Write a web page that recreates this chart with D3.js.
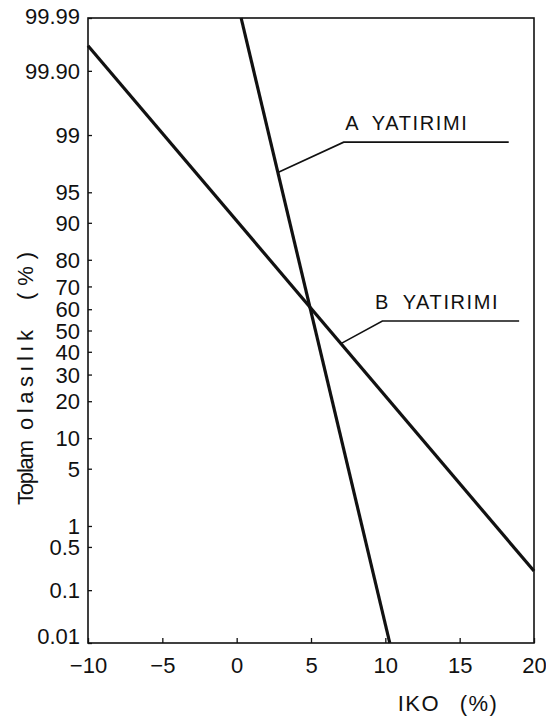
<!DOCTYPE html>
<html>
<head>
<meta charset="utf-8">
<script src="https://cdn.jsdelivr.net/npm/d3@7"></script>
<style>
  body { margin: 0; background: #fff; }
  svg { display: block; }
  text { font-family: "Liberation Sans Narrow", "Liberation Sans", Arial, sans-serif; fill: #111; }
</style>
</head>
<body>
<div id="chart"></div>
<script>
// probability ticks (cumulative %), x ticks (IKO %)
const yTicks = [99.99, 99.90, 99, 95, 90, 80, 70, 60, 50, 40, 30, 20, 10, 5, 1, 0.5, 0.1, 0.01];
const yTickLabels = ["99.99", "99.90", "99", "95", "90", "80", "70", "60", "50", "40", "30", "20", "10", "5", "1", "0.5", "0.1", "0.01"];
const xTicks = [-10, -5, 0, 5, 10, 15, 20];

// the two straight lines: [IKO, cumulative probability %]
const seriesA = [[0.3, 99.99], [10.3, 0.01]];
const seriesB = [[-10, 99.965], [20, 0.21]];

// labels with leader lines: anchor on line (prob), elbow (x, prob), end x, text start x
const labelA = { text: "A  YATIRIMI", anchorP: 97, elbowX: 7.2, levelP: 98.75, endX: 18.3, textX: 7.3 };
const labelB = { text: "B  YATIRIMI", anchorP: 43.8, elbowX: 9.8, levelP: 54.5, endX: 19.0, textX: 9.3 };

// y title words: [word, start, length] along the rotated text
const yTitleWords = [["Toplam", -126, 65], ["olasılık", -51, 100], ["(%)", 79, 48]];

const width = 546, height = 718;
const margin = { top: 18, left: 88, bottom: 75, right: 12 };

// inverse normal cdf (Acklam)
function probit(p) {
  const a = [-3.969683028665376e+01, 2.209460984245205e+02, -2.759285104469687e+02, 1.383577518672690e+02, -3.066479806614716e+01, 2.506628277459239e+00];
  const b = [-5.447609879822406e+01, 1.615858368580409e+02, -1.556989798598866e+02, 6.680131188771972e+01, -1.328068155288572e+01];
  const c = [-7.784894002430293e-03, -3.223964580411365e-01, -2.400758277161838e+00, -2.549671010115149e+00, 4.374664141464968e+00, 2.938163982698783e+00];
  const d = [7.784695709041462e-03, 3.224671290700398e-01, 2.445134137142996e+00, 3.754408661907416e+00];
  const pl = 0.02425;
  let q, r;
  if (p < pl) {
    q = Math.sqrt(-2 * Math.log(p));
    return (((((c[0]*q+c[1])*q+c[2])*q+c[3])*q+c[4])*q+c[5]) / ((((d[0]*q+d[1])*q+d[2])*q+d[3])*q+1);
  } else if (p <= 1 - pl) {
    q = p - 0.5; r = q * q;
    return (((((a[0]*r+a[1])*r+a[2])*r+a[3])*r+a[4])*r+a[5])*q / (((((b[0]*r+b[1])*r+b[2])*r+b[3])*r+b[4])*r+1);
  } else {
    q = Math.sqrt(-2 * Math.log(1 - p));
    return -(((((c[0]*q+c[1])*q+c[2])*q+c[3])*q+c[4])*q+c[5]) / ((((d[0]*q+d[1])*q+d[2])*q+d[3])*q+1);
  }
}

const plotW = width - margin.left - margin.right;
const plotH = height - margin.top - margin.bottom;

const x = d3.scaleLinear().domain([-10, 20]).range([0, plotW]);
const zScale = d3.scaleLinear().domain([probit(0.0001), probit(0.9999)]).range([plotH, 0]);
const y = p => zScale(probit(p / 100));

const svg = d3.select("#chart").append("svg")
  .attr("width", width)
  .attr("height", height);

const g = svg.append("g").attr("transform", `translate(${margin.left},${margin.top})`);

// frame
g.append("rect")
  .attr("width", plotW)
  .attr("height", plotH)
  .attr("fill", "none")
  .attr("stroke", "#111")
  .attr("stroke-width", 1.6);

// y axis (ticks pointing inward)
const yAxis = g.append("g")
  .call(d3.axisLeft(zScale)
    .tickValues(yTicks.map(p => probit(p / 100)))
    .tickSizeInner(-4)
    .tickSizeOuter(0)
    .tickPadding(8)
    .tickFormat((d, i) => yTickLabels[i]));
yAxis.select(".domain").remove();
yAxis.selectAll("line").attr("stroke", "#111").attr("stroke-width", 1.3);
yAxis.selectAll("text")
  .attr("font-size", 22)
  .attr("fill", "#111")
  .attr("dy", (d, i) => i === 0 ? "0.25em" : (i === yTicks.length - 1 ? "0" : "0.35em"));

// x axis
const xAxis = g.append("g")
  .attr("transform", `translate(0,${plotH})`)
  .call(d3.axisBottom(x)
    .tickValues(xTicks)
    .tickSizeInner(-5)
    .tickSizeOuter(0)
    .tickPadding(14)
    .tickFormat(d => d < 0 ? "\u2212" + Math.abs(d) : d));
xAxis.select(".domain").remove();
xAxis.selectAll("line").attr("stroke", "#111").attr("stroke-width", 1.3);
xAxis.selectAll("text").attr("font-size", 22).attr("fill", "#111");

// axis titles
g.append("text")
  .attr("transform", `translate(${25 - margin.left},${379 - margin.top}) rotate(-90)`)
  .attr("dy", "0.35em")
  .attr("font-size", 22)
  .selectAll("tspan")
  .data(yTitleWords)
  .join("tspan")
  .attr("x", d => d[1])
  .attr("textLength", d => d[2])
  .attr("lengthAdjust", "spacing")
  .text(d => d[0]);

g.append("text")
  .attr("x", 448 - margin.left)
  .attr("y", 703 - margin.top)
  .attr("text-anchor", "middle")
  .attr("dy", "0.35em")
  .attr("font-size", 22)
  .attr("letter-spacing", 1.5)
  .attr("word-spacing", 12)
  .text("IKO (%)");

// lines
const line = d3.line().x(d => x(d[0])).y(d => y(d[1]));
[seriesA, seriesB].forEach(s => {
  g.append("path")
    .datum(s)
    .attr("d", line)
    .attr("fill", "none")
    .attr("stroke", "#111")
    .attr("stroke-width", 3.2);
});

// x on a line for a given probability
function xOnLine(s, p) {
  const z0 = probit(s[0][1] / 100), z1 = probit(s[1][1] / 100);
  const t = (probit(p / 100) - z0) / (z1 - z0);
  return s[0][0] + t * (s[1][0] - s[0][0]);
}

[[labelA, seriesA], [labelB, seriesB]].forEach(([lab, s]) => {
  const pts = [[xOnLine(s, lab.anchorP), lab.anchorP], [lab.elbowX, lab.levelP], [lab.endX, lab.levelP]];
  g.append("path")
    .datum(pts)
    .attr("d", line)
    .attr("fill", "none")
    .attr("stroke", "#111")
    .attr("stroke-width", 1.6);
  g.append("text")
    .attr("x", x(lab.textX))
    .attr("y", y(lab.levelP) - 12)
    .attr("font-size", 20)
    .attr("letter-spacing", 1.6)
    .attr("word-spacing", 6)
    .text(lab.text);
});
</script>
</body>
</html>
